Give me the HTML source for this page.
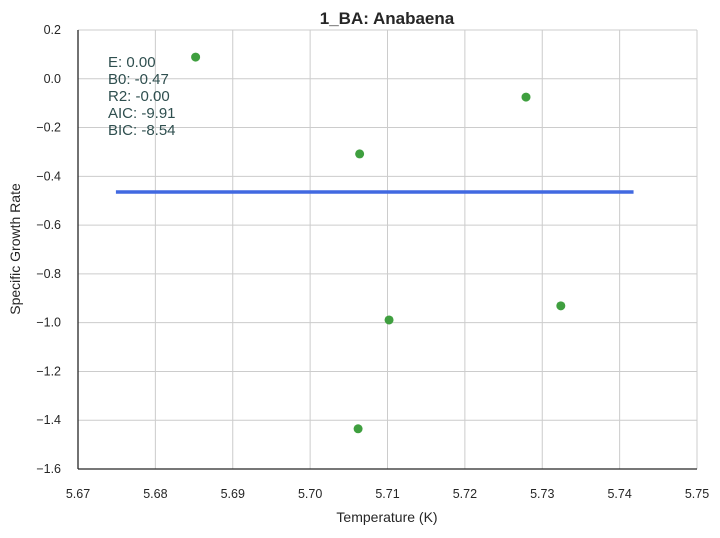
<!DOCTYPE html>
<html><head><meta charset="utf-8">
<style>
body{margin:0;background:#fff;}
svg text{font-family:"Liberation Sans",sans-serif;}
</style></head>
<body>
<svg id="chart" width="720" height="533" xmlns="http://www.w3.org/2000/svg">
<g id="grid"></g>
<g id="axes"></g>
<g id="series"></g>
<text x="387" y="24" text-anchor="middle" font-size="17" font-weight="bold" fill="#262626">1_BA: Anabaena</text>
<text x="387" y="522" text-anchor="middle" font-size="14" fill="#262626">Temperature (K)</text>
<text x="20" y="249" text-anchor="middle" font-size="14" fill="#262626" transform="rotate(-90 20 249)">Specific Growth Rate</text>
<g font-size="15" fill="#2f4f4f" style="white-space:pre">
<text x="108" y="67">E:  0.00</text>
<text x="108" y="84">B0:  -0.47</text>
<text x="108" y="101">R2:  -0.00</text>
<text x="108" y="118">AIC: -9.91</text>
<text x="108" y="135">BIC: -8.54</text>
</g>
</svg>
<script>
const xTicks=[5.67,5.68,5.69,5.70,5.71,5.72,5.73,5.74,5.75];
const yTicks=[0.2,0.0,-0.2,-0.4,-0.6,-0.8,-1.0,-1.2,-1.4,-1.6];
const pointsX=[5.6852,5.7279,5.7064,5.7102,5.7324,5.7062];
const pointsY=[0.089,-0.075,-0.308,-0.989,-0.931,-1.435];
const fitX=[5.6749,5.7418];
const fitY=[-0.464,-0.464];
const L=78,R=697,T=30,B=469;
const sx=v=>L+(v-5.67)/(5.75-5.67)*(R-L);
const sy=v=>T+(0.2-v)/(1.8)*(B-T);
const NS="http://www.w3.org/2000/svg";
function mk(tag,attrs,parent){const e=document.createElementNS(NS,tag);for(const k in attrs)e.setAttribute(k,attrs[k]);parent.appendChild(e);return e;}
const grid=document.getElementById('grid'),axes=document.getElementById('axes'),series=document.getElementById('series');
xTicks.forEach(t=>{
 const l=mk('line',{x1:sx(t),x2:sx(t),y1:T,y2:B,stroke:'#cccccc','stroke-width':1},grid);
 
 
 const tx=mk('text',{x:sx(t),y:B+29,'text-anchor':'middle','font-size':12.5,fill:'#262626'},axes);
 tx.textContent=t.toFixed(2);
 
 
});
yTicks.forEach(t=>{
 const l=mk('line',{x1:L,x2:R,y1:sy(t),y2:sy(t),stroke:'#cccccc','stroke-width':1},grid);
 
 
 const tx=mk('text',{x:L-17,y:sy(t)+4,'text-anchor':'end','font-size':12.5,fill:'#262626'},axes);
 tx.textContent=t.toFixed(1).replace('-','\u2212');
 
 
});
const xa=mk('line',{x1:L,x2:R,y1:B,y2:B,stroke:'#262626','stroke-width':1.3},axes);


const ya=mk('line',{x1:L,x2:L,y1:T,y2:B,stroke:'#262626','stroke-width':1.3},axes);


const fl=mk('line',{x1:sx(fitX[0]),x2:sx(fitX[1]),y1:sy(fitY[0]),y2:sy(fitY[1]),stroke:'#4169e1','stroke-width':3.5},series);


pointsX.forEach((x,i)=>{
 const c=mk('circle',{cx:sx(x),cy:sy(pointsY[i]),r:4.5,fill:'#3f9f3f'},series);
 
 
});
</script>
</body></html>
